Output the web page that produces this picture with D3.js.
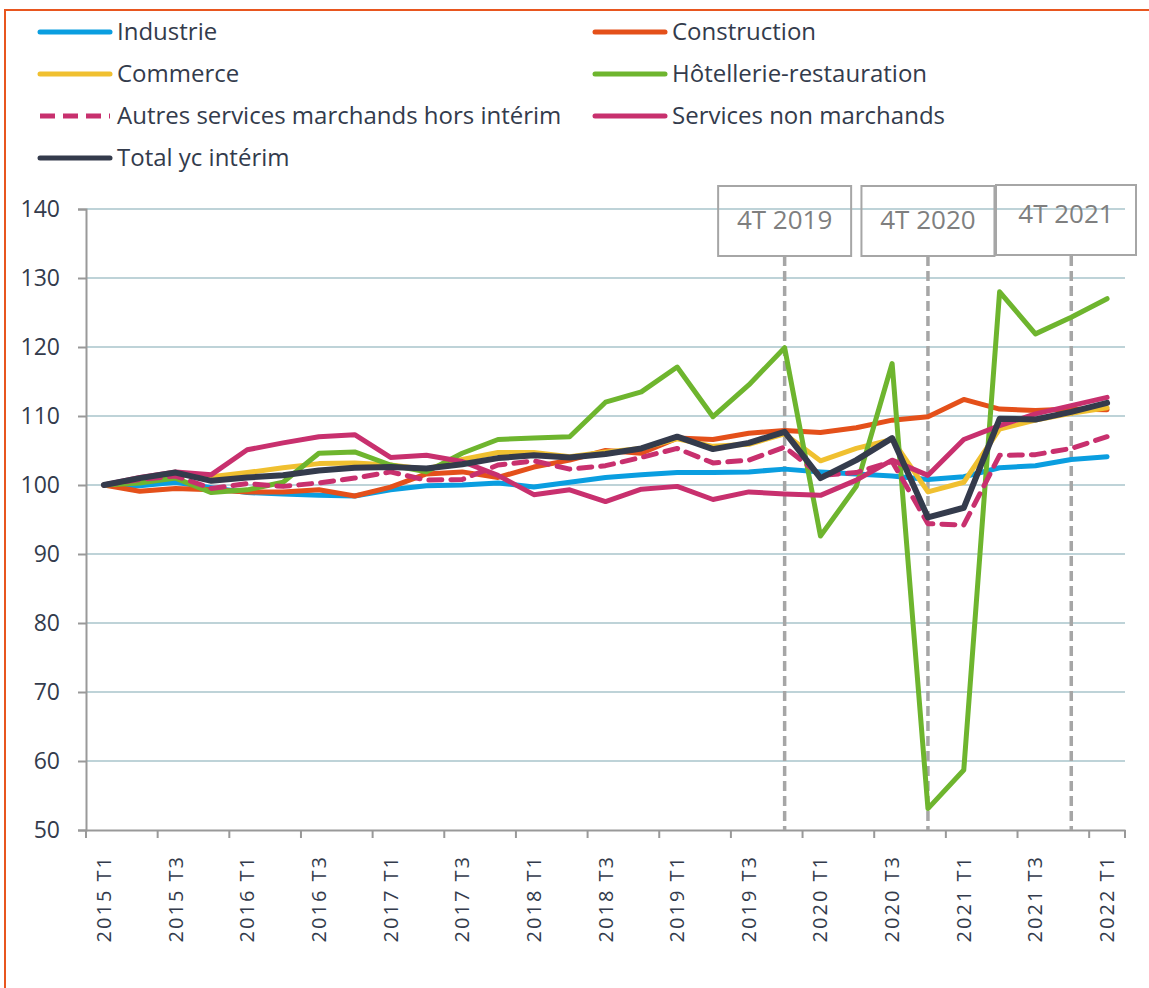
<!DOCTYPE html>
<html>
<head>
<meta charset="utf-8">
<script src="https://cdn.jsdelivr.net/npm/d3@7"></script>
<style>
  body { margin: 0; background: #fff; }
  text { font-family: "Open Sans", sans-serif; }
</style>
</head>
<body>
<script>
// quarters 2015 T1 .. 2022 T1
var quarters = []
for (var yr = 2015; yr <= 2022; yr++) {
  for (var q = 1; q <= 4; q++) {
    if (yr == 2022 && q > 1) break
    quarters.push(yr + " T" + q)
  }
}

var industrie = [100, 99.9, 100.4, 99.6, 98.9, 98.7, 98.5, 98.4, 99.3, 99.9, 100.0, 100.3, 99.7, 100.4,
  101.1, 101.5, 101.8, 101.8, 101.9, 102.3, 101.9, 101.6, 101.3, 100.8, 101.2, 102.5, 102.8, 103.7, 104.1]
var construction = [100, 99.1, 99.5, 99.3, 99.0, 99.0, 99.3, 98.4, 99.7, 101.6, 101.9, 101.1, 102.6, 103.6,
  105.0, 104.6, 106.8, 106.6, 107.5, 107.9, 107.6, 108.3, 109.4, 109.9, 112.4, 111.0, 110.8, 111.0, 110.9]
var commerce = [100, 100.6, 101.5, 101.2, 101.8, 102.5, 103.1, 103.2, 102.9, 102.3, 103.7, 104.7, 104.7, 104.1,
  104.8, 105.3, 106.7, 105.6, 105.9, 107.4, 103.5, 105.3, 106.6, 99.0, 100.4, 108.1, 109.4, 110.4, 111.2]
var hotellerie = [100, 100.3, 101.0, 98.9, 99.3, 100.4, 104.6, 104.8, 102.9, 101.9, 104.6, 106.6, 106.8, 107.0,
  112.0, 113.5, 117.1, 109.9, 114.5, 119.9, 92.6, 99.8, 117.6, 53.1, 58.7, 128.0, 121.9, 124.3, 127.0]
var autresServices = [100, 100.8, 101.3, 99.5, 100.2, 99.8, 100.3, 101.0, 101.9, 100.7, 100.8, 102.9, 103.5, 102.3,
  102.8, 104.0, 105.3, 103.2, 103.6, 105.5, 101.4, 101.8, 103.4, 94.4, 94.2, 104.3, 104.4, 105.3, 107.0]
var nonMarchands = [100, 101.1, 101.9, 101.5, 105.1, 106.1, 107.0, 107.3, 104.0, 104.3, 103.4, 101.4, 98.6, 99.3,
  97.6, 99.4, 99.8, 97.9, 99.0, 98.7, 98.5, 100.7, 103.6, 101.4, 106.6, 108.6, 110.3, 111.5, 112.7]
var total = [100, 101.0, 101.8, 100.6, 101.1, 101.4, 102.1, 102.5, 102.6, 102.4, 103.0, 103.9, 104.3, 104.0,
  104.5, 105.3, 107.0, 105.2, 106.1, 107.7, 101.0, 103.6, 106.8, 95.3, 96.7, 109.6, 109.5, 110.6, 111.9]

var seriesNames = ["Industrie", "Construction", "Commerce", "Hôtellerie-restauration",
  "Autres services marchands hors intérim", "Services non marchands", "Total yc intérim"]
var seriesValues = [industrie, construction, commerce, hotellerie, autresServices, nonMarchands, total]
var seriesColors = ["#0a9ee0", "#e4501a", "#f0c030", "#6eb52e", "#c8306e", "#c8306e", "#343b4c"]
var seriesDashed = [false, false, false, false, true, false, false]

var yTicks = [50, 60, 70, 80, 90, 100, 110, 120, 130, 140]
var markerQuarters = ["2019 T4", "2020 T4", "2021 T4"]
var markerLabels = ["4T 2019", "4T 2020", "4T 2021"]

var width = 1149, height = 988
var plotL = 86, plotR = 1125, plotT = 209, plotB = 830

var svg = d3.select("body").append("svg")
    .attr("width", width).attr("height", height)

// orange frame
svg.append("path")
    .attr("d", "M5," + height + " V10 H" + width)
    .attr("fill", "none").attr("stroke", "#e8561f").attr("stroke-width", 2)

var x = d3.scaleBand().domain(quarters).range([plotL, plotR]).paddingInner(0).paddingOuter(0)
var y = d3.scaleLinear().domain([50, 140]).range([plotB, plotT])
var cx = function(q) { return x(q) + x.bandwidth() / 2 }

// gridlines
svg.append("g").selectAll("line")
    .data(yTicks.filter(function(d) { return d != 50 }))
    .enter().append("line")
    .attr("x1", plotL).attr("x2", plotR)
    .attr("y1", function(d) { return y(d) }).attr("y2", function(d) { return y(d) })
    .attr("stroke", "#a9c4cb").attr("stroke-width", 1.5)

// y axis
var yAxis = svg.append("g").attr("transform", "translate(" + plotL + ",0)")
    .call(d3.axisLeft(y).tickValues(yTicks).tickSize(8).tickPadding(18))
yAxis.select(".domain").attr("stroke", "#999").attr("stroke-width", 2)
yAxis.selectAll(".tick line").attr("stroke", "#999").attr("stroke-width", 2)
yAxis.selectAll("text").attr("font-size", 23).attr("fill", "#333b4c")
    .attr("font-family", "Open Sans, sans-serif")

// x axis: labels every 2 quarters, ticks on category boundaries
var evenQ = quarters.filter(function(d, i) { return i % 2 == 0 })
var xAxis = svg.append("g").attr("transform", "translate(0," + plotB + ")")
    .call(d3.axisBottom(x).tickValues(evenQ).tickSize(0))
xAxis.select(".domain").attr("stroke", "#999").attr("stroke-width", 2)
xAxis.selectAll("text")
    .attr("font-size", 20).attr("fill", "#333b4c").attr("letter-spacing", 2)
    .attr("font-family", "Open Sans, sans-serif")
    .attr("text-anchor", "end")
    .attr("transform", "rotate(-90)")
    .attr("dx", "-25").attr("dy", "0.35em").attr("x", 0).attr("y", 0)
var tickPos = evenQ.map(function(q) { return x(q) }).concat([plotR])
svg.append("g").selectAll("line").data(tickPos).enter().append("line")
    .attr("x1", function(d) { return d }).attr("x2", function(d) { return d })
    .attr("y1", plotB).attr("y2", plotB + 8)
    .attr("stroke", "#999").attr("stroke-width", 2)

// annotation markers
var mk = svg.append("g")
markerQuarters.forEach(function(q, i) {
  var mx = cx(q)
  mk.append("line")
      .attr("x1", mx).attr("x2", mx).attr("y1", 256).attr("y2", plotB)
      .attr("stroke", "#a6a6a6").attr("stroke-width", 3.5).attr("stroke-dasharray", "10,5")
  var bw = i == 2 ? 140 : 133
  var bx = i == 2 ? 996 : mx - bw / 2
  var by = i == 2 ? 185 : 186
  mk.append("rect")
      .attr("x", bx).attr("y", by).attr("width", bw).attr("height", 70)
      .attr("fill", "none").attr("stroke", "#a6a6a6").attr("stroke-width", 2)
  mk.append("text")
      .attr("x", bx + bw / 2).attr("y", by + (i == 2 ? 38 : 43))
      .attr("text-anchor", "middle").attr("font-size", 26).attr("fill", "#7f7f7f")
      .text(markerLabels[i])
})

// series
var line = d3.line()
    .x(function(d, i) { return cx(quarters[i]) })
    .y(function(d) { return y(d) })

seriesValues.forEach(function(vals, s) {
  svg.append("path")
      .datum(vals)
      .attr("d", line)
      .attr("fill", "none")
      .attr("stroke", seriesColors[s])
      .attr("stroke-width", s == 6 ? 6 : 5)
      .attr("stroke-linejoin", "round")
      .attr("stroke-linecap", "round")
      .attr("stroke-dasharray", seriesDashed[s] ? "13,9" : null)
})

// legend
var legend = svg.append("g")
seriesNames.forEach(function(name, s) {
  var col = s % 2, row = Math.floor(s / 2)
  var lx = col == 0 ? 40 : 595
  var ly = 32 + row * 42
  legend.append("line")
      .attr("x1", lx).attr("x2", lx + 70).attr("y1", ly).attr("y2", ly)
      .attr("stroke", seriesColors[s]).attr("stroke-width", 5)
      .attr("stroke-linecap", seriesDashed[s] ? "butt" : "round")
      .attr("stroke-dasharray", seriesDashed[s] ? "15,8" : null)
  legend.append("text")
      .attr("x", lx + 77).attr("y", ly).attr("dy", "0.35em")
      .attr("font-size", 24).attr("fill", "#333b4c")
      .text(name)
})
</script>
</body>
</html>
